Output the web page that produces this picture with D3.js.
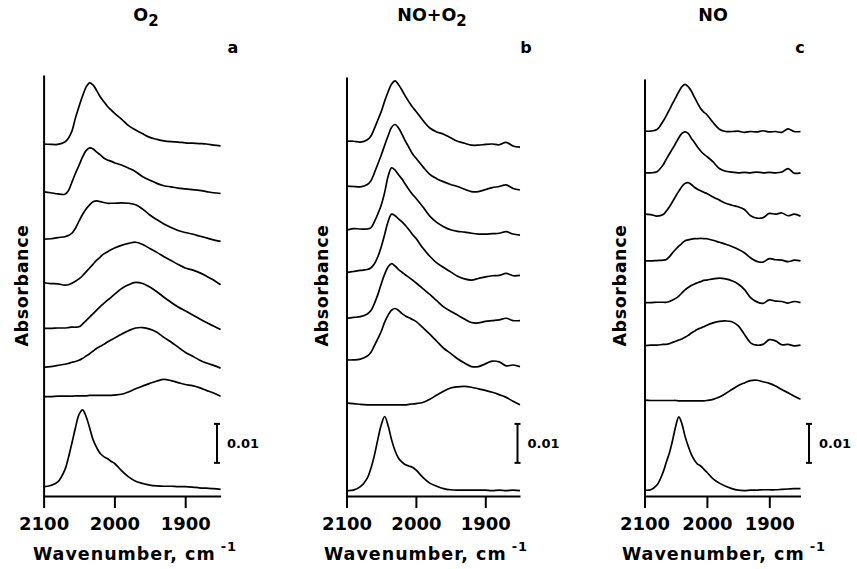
<!DOCTYPE html>
<html><head><meta charset="utf-8">
<script src="https://cdn.jsdelivr.net/npm/d3@7/dist/d3.min.js"></script>
<style>
html,body{margin:0;padding:0;background:#fff;}
text{font-family:"DejaVu Sans",sans-serif;font-weight:bold;fill:#000;}
</style></head>
<body>
<script>
// ---------- data ----------
const wavenumbers = [2100,2090,2080,2070,2065,2060,2055,2050,2045,2040,2035,2030,2025,2020,2015,2010,2005,2000,
  1990,1980,1970,1960,1950,1940,1930,1920,1910,1900,1890,1880,1870,1860,1850];
const tickValues = [2100, 2000, 1900];
const panelTitles = ["O2", "NO+O2", "NO"];
const panelLetters = ["a", "b", "c"];
const scaleBarLabel = "0.01";      // 10 mA
const scaleBarValue = 10;          // absorbance x 1000

// baseline offsets of the stacked spectra (absorbance x 1000), top to bottom
const offsetsA = [90.3, 78.0, 65.9, 54.7, 43.0, 33.0, 25.5, 2.4];
const offsetsB = [91.0, 79.5, 68.2, 57.3, 45.6, 34.9, 23.8, 1.4];
const offsetsC = [93.6, 82.9, 72.3, 60.3, 49.6, 38.6, 24.6, 1.5];

// spectra (absorbance x 1000 above own baseline), one row per trace
const spectraA = [
 [0,-0.1,-0.1,0.5,1.5,3.3,6.7,9.6,12.3,14.6,15.7,15.1,13.7,12.1,10.9,9.7,8.8,7.9,6.4,4.7,3.6,2.6,1.7,1.2,0.8,0.6,0.5,0.3,0.2,0.1,0,-0.3,-0.5],
 [0,-0.2,-0.5,-0.6,0.3,2.5,4.8,6.8,9.0,10.6,11.3,11.0,10.2,9.5,8.7,8.2,7.9,7.5,6.9,6.1,5.2,3.9,3.0,2.2,1.6,1.3,1.0,0.8,0.6,0.4,0.1,-0.2,-0.4],
 [0,0.1,0.4,0.6,0.9,1.5,2.8,4.6,6.3,7.7,8.8,9.6,9.8,9.6,9.4,9.2,9.2,9.2,9.3,9.2,8.8,7.7,6.2,5.0,3.9,3.0,2.2,1.7,1.3,0.8,0.3,-0.2,-0.6],
 [0,-0.2,-0.3,-0.6,-0.5,-0.1,0.4,1.0,1.8,2.8,3.8,4.8,5.8,6.6,7.4,7.9,8.5,8.9,9.6,10.1,10.4,9.8,8.8,7.8,6.7,5.7,4.7,3.8,3.3,2.6,1.7,0.7,-0.5],
 [0,0,0.1,0.1,0.2,0.3,0.3,0.4,1.1,2.0,2.9,3.8,4.7,5.6,6.4,7.2,7.9,8.7,10.2,11.2,11.8,11.5,10.6,9.4,8.0,6.7,5.5,4.5,3.5,2.5,1.5,0.6,-0.3],
 [0,0.2,0.5,0.8,1.0,1.3,1.5,1.8,2.3,2.9,3.5,4.2,4.9,5.4,5.9,6.5,7.0,7.5,8.5,9.4,10.1,10.2,9.8,9.0,7.7,6.5,5.2,3.9,2.9,1.9,1.1,0.5,-0.2],
 [0,0,0.1,0.1,0.1,0.1,0.2,0.2,0.2,0.2,0.3,0.3,0.3,0.3,0.3,0.3,0.3,0.4,0.6,1.2,2.0,2.7,3.4,4.0,4.4,4.1,3.6,3.1,2.8,2.3,1.6,0.9,0.1],
 [0,0.3,1.2,4.3,7.4,11.2,15.1,18.5,19.7,18.0,15.1,12.0,10.0,8.5,7.7,7.2,6.5,6.0,4.1,2.5,1.4,0.8,0.4,0.2,0.1,0.1,0,0,-0.1,-0.3,-0.4,-0.5,-0.7]
];
const spectraB = [
 [0,0,-0.2,0.4,1.3,3.2,5.4,7.6,10.3,12.7,14.7,15.5,14.5,13.1,11.5,10.1,8.8,7.7,5.4,3.4,2.4,1.8,0.9,0,-0.5,-1.0,-1.0,-0.8,-0.7,-0.9,-0.3,-1.2,-1.5],
 [0,-0.1,-0.2,0.4,1.3,3.3,5.6,7.9,10.5,12.9,15.1,15.8,14.9,13.3,11.5,9.9,8.3,7.2,5.0,3.0,1.9,1.1,0.4,-0.1,-0.8,-1.4,-1.4,-0.9,-0.4,-0.1,0.3,-0.6,-1.0],
 [0,0.4,0.3,0.3,0.6,2.1,4.1,6.4,9.7,13.8,16.0,15.4,14.2,13.1,11.7,10.4,9.2,8.2,6.0,3.6,2.0,0.9,0.1,-0.3,-0.5,-0.8,-1.0,-1.0,-0.9,-0.8,-0.4,-1.0,-1.3],
 [0,0.3,0.6,0.8,1.2,2.2,4.0,6.6,9.8,13.1,15.0,14.6,13.8,13.0,12.1,11.0,9.8,8.8,6.3,4.2,2.5,1.3,0.2,-0.9,-1.6,-1.9,-1.5,-1.1,-0.8,-0.7,-0.2,-0.8,-0.7],
 [0,0.2,0.4,1.1,1.9,3.7,6.0,8.8,11.3,13.2,14.0,13.4,12.5,11.8,11.1,10.5,9.8,9.1,7.6,6.1,4.5,2.9,1.8,0.8,-0.2,-1.1,-1.2,-0.8,-0.6,-0.4,0,-0.6,-0.6],
 [0,0,0.2,1.0,1.9,3.6,5.4,7.3,9.7,11.5,12.8,13.2,12.7,11.9,11.3,10.8,10.4,9.9,8.3,6.6,4.8,3.0,1.7,0.3,-0.8,-1.7,-1.7,-1.0,-0.3,-0.5,-1.5,-1.3,-1.7],
 [0,-0.1,-0.3,-0.4,-0.4,-0.4,-0.4,-0.4,-0.4,-0.4,-0.4,-0.4,-0.4,-0.4,-0.4,-0.3,-0.2,-0.1,0.2,1.0,2.1,3.1,3.9,4.2,4.3,4.1,3.7,3.3,2.8,2.2,1.5,0.5,-0.4],
 [0,0.1,1.0,3.2,5.6,8.9,13.0,16.8,19.0,16.6,13.0,10.2,8.3,7.3,6.6,6.3,6.0,5.3,3.4,1.9,1.1,0.5,0.2,0.1,0.1,0.1,0.1,0.1,0,0.1,0,0.1,0]
];
const spectraC = [
 [0,0,0.4,2.6,4.0,5.5,7.1,8.6,10.1,11.4,12.0,11.4,10.3,8.7,7.2,5.8,4.9,4.2,2.2,0.5,-0.1,-0.1,0,-0.3,-0.1,-0.2,0.1,-0.2,-0.1,-0.3,0.6,-0.1,-0.1],
 [0,0,0.3,2.1,3.5,4.9,6.2,7.6,9.0,10.1,10.5,10.1,8.9,7.8,6.6,5.6,4.8,4.2,2.8,1.1,0.4,0.2,0,0.1,0,0.2,0,0.1,0,0.2,1.1,-0.1,0],
 [0,-0.1,-0.5,-0.1,0.8,1.9,3.2,4.6,5.9,7.1,7.9,8.1,7.6,6.9,6.4,6.0,5.6,5.3,4.4,3.6,2.8,2.3,1.9,1.2,-0.4,-1.0,-0.9,0.2,0,0.3,-0.4,0,-0.5],
 [0,0,0.1,0.2,0.4,1.1,2.1,3.0,3.8,4.5,5.2,5.4,5.6,5.7,5.7,5.8,5.7,5.7,5.3,4.8,4.3,3.7,3.0,2.1,0.8,-0.1,-0.3,0.6,0.3,0.2,-0.2,0.2,0],
 [0,0,0.1,0.1,0.1,0.3,0.7,1.1,1.7,2.5,3.3,3.9,4.4,4.8,5.1,5.4,5.7,5.8,6.1,6.3,6.1,5.6,4.8,3.4,1.3,0.2,-0.2,0.7,0.4,0.3,-0.1,0.3,0],
 [0,0.1,0.1,0.3,0.3,0.5,0.8,1.1,1.4,1.7,2.1,2.6,3.2,3.7,4.2,4.5,4.8,5.2,5.8,6.2,6.3,6.1,5.1,2.9,0.7,0.1,0.3,1.5,1.2,0.2,0.3,-0.1,0.1],
 [0,-0.1,-0.1,-0.1,-0.1,-0.1,-0.1,-0.1,-0.2,-0.2,-0.2,-0.2,-0.2,-0.2,-0.2,-0.2,-0.2,-0.1,0.2,0.8,1.7,2.7,3.7,4.4,5.0,5.1,4.7,4.3,3.6,2.7,1.9,1.0,0.2],
 [0,0.1,1.3,4.7,7.2,9.6,12.8,16.4,18.8,17.0,13.8,11.3,9.2,7.7,6.7,6.2,5.4,4.6,2.9,1.8,1.0,0.4,0,-0.1,0,0,0.1,0.1,0.1,0.2,0.3,0.4,0.4]
];

// ---------- layout ----------
const W = 857, H = 569;
const panels = [
  {title: panelTitles[0], letter: panelLetters[0], offsets: offsetsA, spectra: spectraA,
   xr: [43.6, 220.6], axisTop: 108, titleX: 146, letterX: 233, barX: 217, xlabX: 135, ylabX: 21},
  {title: panelTitles[1], letter: panelLetters[1], offsets: offsetsB, spectra: spectraB,
   xr: [346.5, 520], axisTop: 107.5, titleX: 432, letterX: 526, barX: 517.5, xlabX: 426, ylabX: 321},
  {title: panelTitles[2], letter: panelLetters[2], offsets: offsetsC, spectra: spectraC,
   xr: [644.5, 800.5], axisTop: 107, titleX: 713, letterX: 800, barX: 809, xlabX: 724, ylabX: 619}
];
const yBottom = 496, yTopPx = 75, yMax = 108;

const svg = d3.select("body").append("svg").attr("width", W).attr("height", H);
const y = d3.scaleLinear().domain([0, yMax]).range([yBottom, yTopPx]);

panels.forEach((p) => {
  const x = d3.scaleLinear().domain([2100, 1850]).range(p.xr);
  const g = svg.append("g");

  // spectra
  const line = d3.line()
    .x(d => x(d[0]))
    .y(d => y(d[1]))
    .curve(d3.curveCatmullRom.alpha(0.5));
  p.spectra.forEach((vals, k) => {
    const pts = wavenumbers.map((w, i) => [w, p.offsets[k] + vals[i]]);
    g.append("path").attr("d", line(pts))
      .attr("fill", "none").attr("stroke", "#000")
      .attr("stroke-width", 1.7).attr("stroke-linejoin", "round");
  });

  // x axis
  const xa = d3.axisBottom(x).tickValues(tickValues).tickSize(12).tickSizeOuter(0)
    .tickFormat(d3.format("d"));
  const gx = g.append("g").attr("transform", `translate(0,${yBottom})`).call(xa);
  gx.select(".domain").attr("stroke-width", 2);
  gx.selectAll(".tick line").attr("stroke-width", 2);
  gx.selectAll(".tick text").attr("font-size", 18).attr("font-family", "DejaVu Sans")
    .attr("font-weight", "bold").attr("dy", "0.71em").attr("y", 21);

  // y axis (no ticks)
  const yp = d3.scaleLinear().domain([0, p.axisTop]).range([y(0), y(p.axisTop)]);
  const gy = g.append("g").attr("transform", `translate(${x(2100)},0)`)
    .call(d3.axisLeft(yp).tickValues([]).tickSizeOuter(0));
  gy.select(".domain").attr("stroke-width", 2);

  // x label
  const lab = g.append("text").attr("x", p.xlabX).attr("y", 560)
    .attr("text-anchor", "middle").attr("font-size", 17.5).attr("letter-spacing", 1);
  lab.append("tspan").text("Wavenumber, cm");
  lab.append("tspan").attr("dx", 5).attr("dy", -9).attr("font-size", 13).text("-1");

  // y label
  g.append("text").attr("transform", `translate(${p.ylabX + 7},${y(54)}) rotate(-90)`)
    .attr("text-anchor", "middle").attr("font-size", 17.5).attr("letter-spacing", 0.6)
    .text("Absorbance");

  // title with subscript digits
  const t = g.append("text").attr("x", p.titleX).attr("y", 21).attr("text-anchor", "middle")
    .attr("font-size", 17.5);
  p.title.split(/(\d)/).filter(s => s.length).forEach(s => {
    if (/\d/.test(s)) t.append("tspan").attr("dy", 5).attr("font-size", 15).text(s);
    else t.append("tspan").attr("dy", -0).text(s);
  });

  // panel letter
  g.append("text").attr("x", p.letterX).attr("y", 53).attr("text-anchor", "middle")
    .attr("font-size", 16).text(p.letter);

  // scale bar
  const b0 = 8.5, b1 = b0 + scaleBarValue;
  const bar = g.append("g").attr("stroke", "#000").attr("stroke-width", 2);
  bar.append("line").attr("x1", p.barX).attr("x2", p.barX).attr("y1", y(b0)).attr("y2", y(b1));
  bar.append("line").attr("x1", p.barX - 3).attr("x2", p.barX + 3).attr("y1", y(b0)).attr("y2", y(b0));
  bar.append("line").attr("x1", p.barX - 3).attr("x2", p.barX + 3).attr("y1", y(b1)).attr("y2", y(b1));
  g.append("text").attr("x", p.barX + 10).attr("y", y((b0 + b1) / 2) + 5)
    .attr("font-size", 13).text(scaleBarLabel);
});
</script>
</body></html>
